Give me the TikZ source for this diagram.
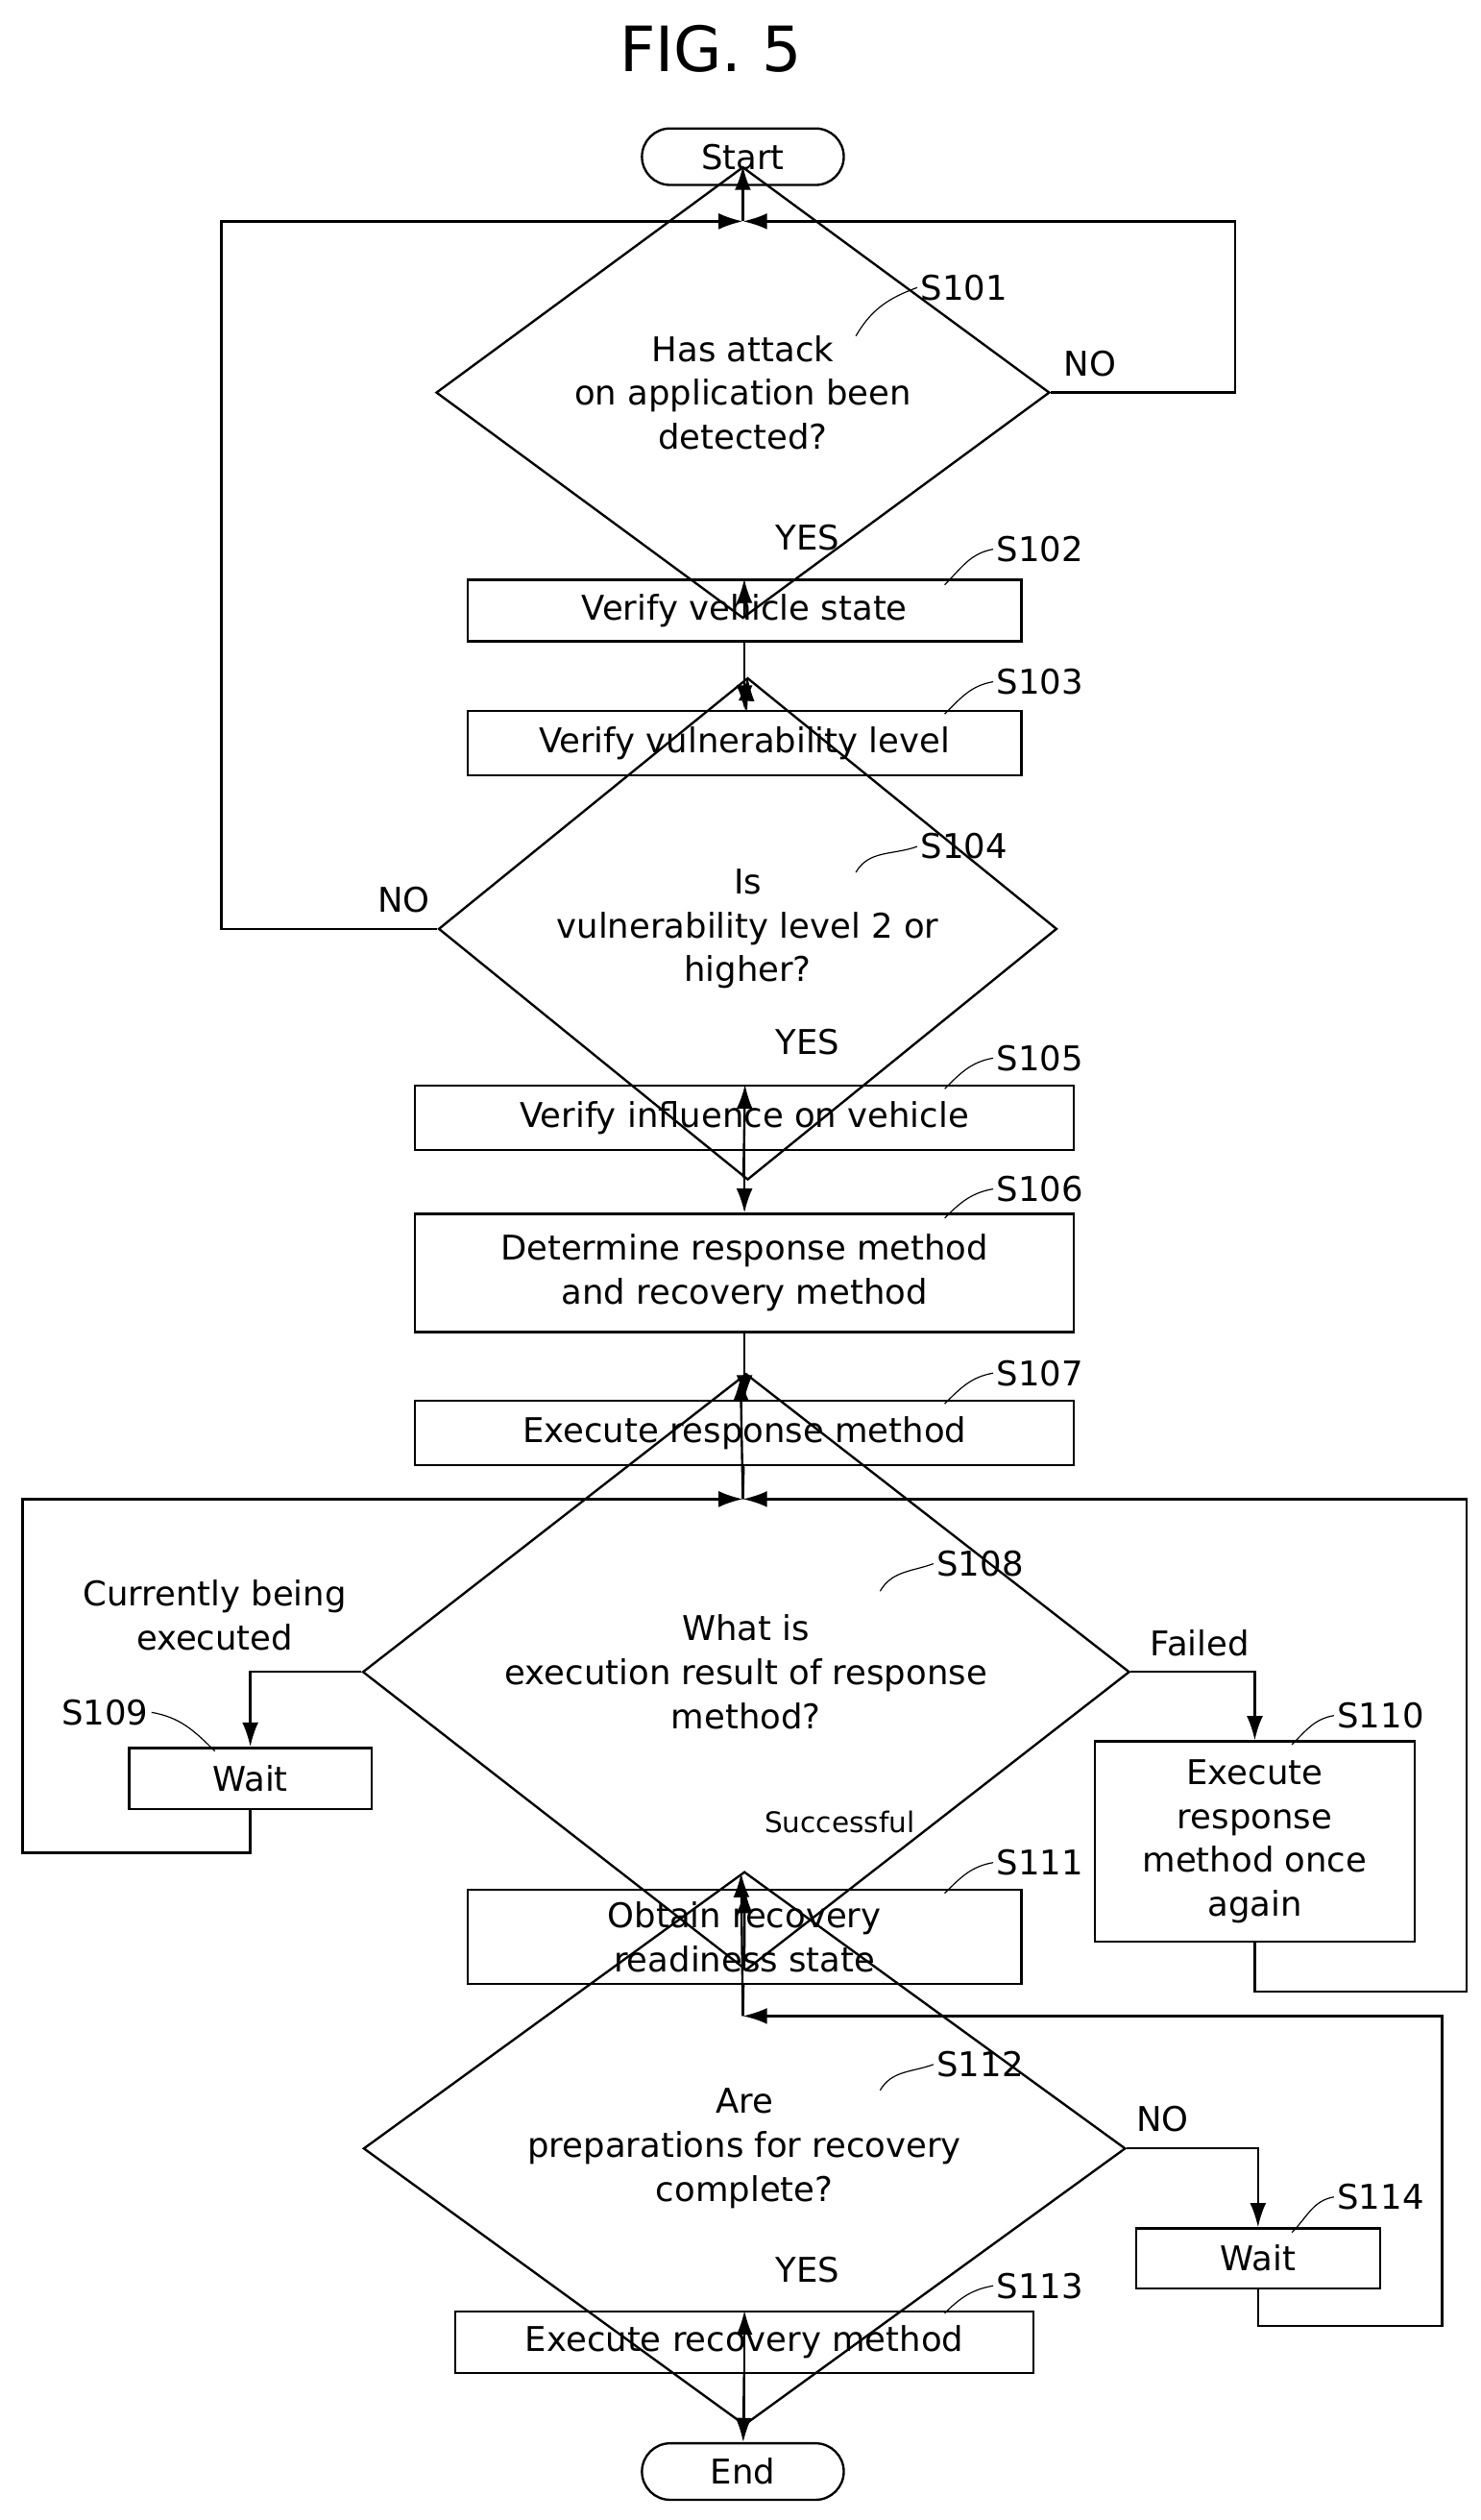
\documentclass[tikz,border=0pt]{standalone}
\usepackage{fontspec}
\setmainfont{DejaVu Sans}
\usetikzlibrary{positioning, arrows.meta, shapes.geometric}

\begin{document}
\begin{tikzpicture}[
        x=0.02cm, y=-0.02cm,
        every node/.style={font=\fontsize{12}{15.5}\selectfont},
        terminal/.style={rectangle, rounded corners=0.35cm, draw, thick, minimum width=2.5cm, minimum height=0.7cm},
        process/.style={rectangle, draw, thick, align=center, inner sep=2pt},
        decision/.style={diamond, draw, thick, align=center, inner sep=0pt},
        steplabel/.style={anchor=west, inner sep=1pt},
        edge/.style={-{Latex[length=3mm,width=2mm]}, thick},
        line/.style={thick}
    ]
        \useasboundingbox (0,0) rectangle (917,1560);
        \node[font=\fontsize{22}{26}\selectfont] (title) at (440,30) {FIG. 5};
        % Start
        \node[terminal] (start) at (460,97) {Start};
        \coordinate (j1) at (460,137);
        % S101
        \node[decision, minimum width=7.6cm, minimum height=3.0cm] (s101) at (460,243) {Has attack\\on application been\\detected?};
        % S102, S103
        \node[process, minimum width=6.86cm, minimum height=0.76cm] (s102) at (461,378) {Verify vehicle state};
        \node[process, minimum width=6.86cm, minimum height=0.8cm] (s103) at (461,460) {Verify vulnerability level};
        % S104
        \node[decision, minimum width=7.66cm, minimum height=2.2cm] (s104) at (463,575) {Is\\vulnerability level 2 or\\higher?};
        % S105 - S107
        \node[process, minimum width=8.16cm, minimum height=0.8cm] (s105) at (461,692) {Verify influence on vehicle};
        \node[process, minimum width=8.16cm, minimum height=1.46cm] (s106) at (461,788) {Determine response method\\and recovery method};
        \node[process, minimum width=8.16cm, minimum height=0.8cm] (s107) at (461,887) {Execute response method};
        \coordinate (j2) at (460,928);
        % S108
        \node[decision, minimum width=9.5cm, minimum height=3.08cm] (s108) at (462,1035) {What is\\execution result of response\\method?};
        \node[process, minimum width=3.0cm, minimum height=0.76cm] (s109) at (155,1101) {Wait};
        \node[process, minimum width=3.96cm, minimum height=2.48cm] (s110) at (777,1140) {Execute\\response\\method once\\again};
        \node[process, minimum width=6.86cm, minimum height=1.16cm] (s111) at (461,1199) {Obtain recovery\\readiness state};
        \coordinate (j3) at (460,1248);
        % S112
        \node[decision, minimum width=9.44cm, minimum height=2.24cm] (s112) at (461,1330) {Are\\preparations for recovery\\complete?};
        \node[process, minimum width=3.02cm, minimum height=0.74cm] (s114) at (779,1398) {Wait};
        \node[process, minimum width=7.16cm, minimum height=0.76cm] (s113) at (461,1450) {Execute recovery method};
        % End
        \node[terminal] (end) at (460,1530) {End};
        % Step labels
        \node[steplabel] (l101) at (568,178) {S101};
        \node[steplabel] (l102) at (615,340) {S102};
        \node[steplabel] (l103) at (615,422) {S103};
        \node[steplabel] (l104) at (568,524) {S104};
        \node[steplabel] (l105) at (615,655) {S105};
        \node[steplabel] (l106) at (615,736) {S106};
        \node[steplabel] (l107) at (615,850) {S107};
        \node[steplabel] (l108) at (578,968) {S108};
        \node[steplabel] (l109) at (36,1060) {S109};
        \node[steplabel] (l110) at (826,1062) {S110};
        \node[steplabel] (l111) at (615,1153) {S111};
        \node[steplabel] (l112) at (578,1278) {S112};
        \node[steplabel] (l113) at (615,1415) {S113};
        \node[steplabel] (l114) at (826,1360) {S114};
        % Leaders
        \draw (l101.west) to[out=200, in=60] (530,208);
        \draw (l102.west) to[out=190, in=45] (585,362);
        \draw (l103.west) to[out=190, in=45] (585,442);
        \draw (l104.west) to[out=200, in=60] (530,540);
        \draw (l105.west) to[out=190, in=45] (585,674);
        \draw (l106.west) to[out=190, in=45] (585,754);
        \draw (l107.west) to[out=190, in=45] (585,869);
        \draw (l108.west) to[out=200, in=60] (545,985);
        \draw (l109.east) to[out=-10, in=135] (133,1084);
        \draw (l110.west) to[out=190, in=45] (800,1080);
        \draw (l111.west) to[out=190, in=45] (585,1172);
        \draw (l112.west) to[out=200, in=60] (545,1294);
        \draw (l113.west) to[out=190, in=45] (585,1432);
        \draw (l114.west) to[out=190, in=45] (800,1382);
        % Branch labels
        \node (yes1) at (500,333) {YES};
        \node (no1) at (675,225) {NO};
        \node (no2) at (250,557) {NO};
        \node (yes2) at (500,645) {YES};
        \node[align=center] (cur) at (133,1000) {Currently being\\executed};
        \node (fail) at (743,1017) {Failed};
        \node[font=\fontsize{10}{12}\selectfont] (succ) at (520,1128) {Successful};
        \node (no3) at (720,1312) {NO};
        \node (yes3) at (500,1405) {YES};
        % Main flow
        \draw[line] (start) -- (j1);
        \draw[edge] (j1) -- (s101);
        \draw[edge] (s101) -- (s102);
        \draw[edge] (s102) -- (s103);
        \draw[edge] (s103) -- (s104.north);
        \draw[edge] (s104) -- (s105);
        \draw[edge] (s105) -- (s106);
        \draw[edge] (s106) -- (s107);
        \draw[line] (s107) -- (j2);
        \draw[edge] (j2) -- (s108);
        \draw[edge] (s108) -- (s111);
        \draw[line] (s111) -- (j3);
        \draw[edge] (j3) -- (s112);
        \draw[edge] (s112) -- (s113);
        \draw[edge] (s113) -- (end);
        % Loops
        \draw[edge] (s101.east) -| (765,137) -- (j1);
        \draw[edge] (s104.west) -- (137,575) |- (j1);
        \draw[edge] (s108.west) -| (s109.north);
        \draw[edge] (s109.south) |- (14,1147) |- (j2);
        \draw[edge] (s108.east) -| (s110.north);
        \draw[edge] (s110.south) |- (908,1233) |- (j2);
        \draw[edge] (s112.east) -| (s114.north);
        \draw[edge] (s114.south) |- (893,1440) |- (j3);
    \end{tikzpicture}
\end{document}
